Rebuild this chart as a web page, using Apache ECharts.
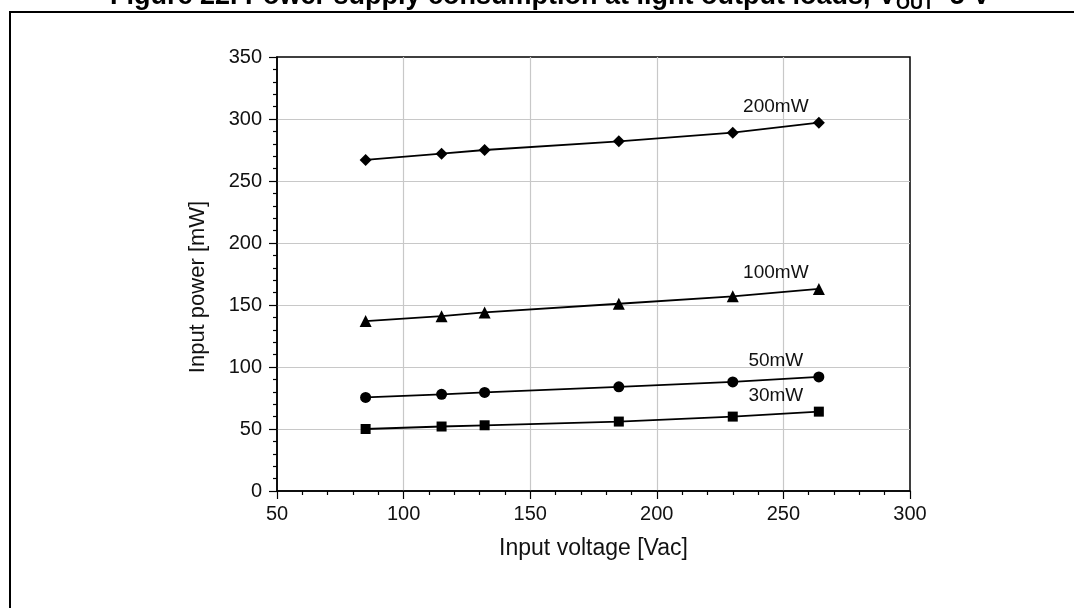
<!DOCTYPE html>
<html>
<head>
<meta charset="utf-8">
<script src="https://cdn.jsdelivr.net/npm/echarts@6/dist/echarts.min.js"></script>
<style>
  html, body { margin: 0; padding: 0; background: #fff; }
  #chart { width: 1074px; height: 608px; }
</style>
</head>
<body>
<div id="chart"></div>
<script>
// Input voltage [Vac]
var voltages = [85, 115, 132, 185, 230, 264];
// Input power [mW] for each output load
var seriesNames = ['200mW', '100mW', '50mW', '30mW'];
var p200 = [267, 272, 275, 282, 289, 297];
var p100 = [137, 141, 144, 151, 157, 163];
var p50  = [75.5, 78, 79.5, 84, 88, 92];
var p30  = [50, 52, 53, 56, 60, 64];
var symbols = ['diamond', 'triangle', 'circle', 'rect'];
var symbolSizes = [12, 12, 11, 10];

var FONT = '"Liberation Sans", Arial, sans-serif';
var chart = echarts.init(document.getElementById('chart'), null, { renderer: 'canvas' });

function buildSeries(name, values, idx) {
  var data = values.map(function (v, i) {
    var item = { value: [voltages[i], v] };
    if (i === values.length - 1) {
      item.label = {
        show: true,
        formatter: name,
        position: 'inside',
        offset: [-43, -16],
        color: '#111',
        fontSize: 19,
        fontFamily: FONT
      };
    }
    return item;
  });
  return {
    name: name,
    type: 'line',
    data: data,
    symbol: symbols[idx],
    symbolSize: symbolSizes[idx],
    showSymbol: true,
    lineStyle: { color: '#000', width: 1.8 },
    itemStyle: { color: '#000' },
    label: { show: false },
    emphasis: { disabled: true },
    z: 5
  };
}

var allValues = [p200, p100, p50, p30];

var option = {
  animation: false,
  backgroundColor: '#fff',
  title: {
    left: 110,
    top: -17,
    padding: 0,
    text: '{a|Figure 22. Power supply consumption at light output loads, V}{s|OUT}{a|=5 V}',
    textStyle: {
      rich: {
        a: { fontSize: 27, lineHeight: 26, fontWeight: 'bold', fontFamily: FONT, color: '#000', verticalAlign: 'top' },
        s: { fontSize: 18, lineHeight: 18, fontWeight: 'bold', fontFamily: FONT, color: '#000', verticalAlign: 'top', padding: [12, 0, 0, 0] }
      }
    }
  },
  graphic: [{
    type: 'rect',
    shape: { x: 10, y: 12, width: 1200, height: 800 },
    style: { fill: 'none', stroke: '#000', lineWidth: 2 },
    silent: true,
    z: 0
  }],
  grid: {
    left: 277, right: 164, top: 57, bottom: 117,
    show: true, borderColor: '#000', borderWidth: 1.5, backgroundColor: 'transparent'
  },
  xAxis: {
    type: 'value',
    min: 50, max: 300, interval: 50,
    name: 'Input voltage [Vac]',
    nameLocation: 'middle',
    nameGap: 46,
    nameTextStyle: { fontSize: 23, fontFamily: FONT, color: '#111' },
    axisLine: { show: true, onZero: false, lineStyle: { color: '#000', width: 1.5 } },
    axisTick: { show: true, inside: false, length: 8, lineStyle: { color: '#000', width: 1.2 } },
    minorTick: { show: true, splitNumber: 5, length: 4, lineStyle: { color: '#000', width: 1.2 } },
    axisLabel: { fontSize: 20, fontFamily: FONT, color: '#111', margin: 13 },
    splitLine: { show: true, showMinLine: false, showMaxLine: false, lineStyle: { color: '#c8c8c8', width: 1.2 } },
    minorSplitLine: { show: false }
  },
  yAxis: {
    type: 'value',
    min: 0, max: 350, interval: 50,
    name: 'Input power [mW]',
    nameLocation: 'middle',
    nameGap: 68,
    nameTextStyle: { fontSize: 22, fontFamily: FONT, color: '#111', padding: [0, 26, 0, 0] },
    axisLine: { show: true, onZero: false, lineStyle: { color: '#000', width: 1.5 } },
    axisTick: { show: true, inside: false, length: 8, lineStyle: { color: '#000', width: 1.2 } },
    minorTick: { show: true, splitNumber: 5, length: 4, lineStyle: { color: '#000', width: 1.2 } },
    axisLabel: { fontSize: 20, fontFamily: FONT, color: '#111', margin: 15 },
    splitLine: { show: true, showMinLine: false, showMaxLine: false, lineStyle: { color: '#c8c8c8', width: 1.2 } },
    minorSplitLine: { show: false }
  },
  series: seriesNames.map(function (n, i) { return buildSeries(n, allValues[i], i); })
};

chart.setOption(option);
</script>
</body>
</html>
